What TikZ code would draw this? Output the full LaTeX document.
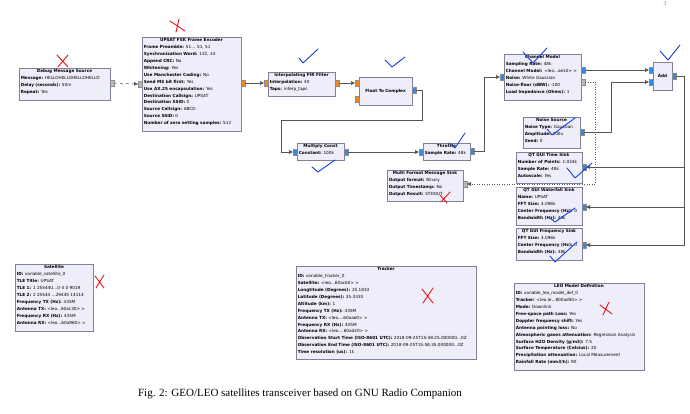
\documentclass[tikz,border=0pt]{standalone}
\usepackage{fontspec}
\usetikzlibrary{arrows.meta}
\newfontfamily\grc{DejaVu Sans}
\newfontfamily\capfont{Liberation Serif}
\definecolor{blkfill}{HTML}{EEEEFB}
\definecolor{blkline}{HTML}{80809A}
\definecolor{pblue}{HTML}{2E8BE6}
\definecolor{porange}{HTML}{F08A1A}
\definecolor{pgrey}{HTML}{B8B8B8}
\definecolor{wirec}{HTML}{555555}
\definecolor{annred}{HTML}{E8151B}
\definecolor{annblue}{HTML}{1A3FE0}
\tikzset{
  blk/.style={draw=blkline, fill=blkfill, line width=0.6pt, inner sep=0pt, outer sep=0pt, rectangle},
  ttl/.style={inner sep=0pt, font=\grc\bfseries\fontsize{4.2}{6.9}\selectfont},
  bdy/.style={inner sep=0pt, align=left, font=\grc\fontsize{4.2}{6.9}\selectfont},
  port/.style={rectangle, minimum width=4pt, minimum height=6pt, inner sep=0pt, outer sep=0pt, draw=black!45, line width=0.3pt},
  wire/.style={draw=wirec, line width=0.5pt, -{Triangle[length=4pt,width=3.6pt]}},
  redx/.style={draw=annred, line width=0.9pt, line cap=round},
  bluecheck/.style={draw=annblue, line width=0.9pt, line cap=round, line join=round},
}
\newcommand\grcblock[7]{%
  \node[blk, minimum width=#4pt, minimum height=#5pt, anchor=north west] (#1) at (#2,#3) {};
  \node[ttl, anchor=north] (#1-t) at ([yshift=-1.6pt]#1.north) {#6};
  \node[bdy, anchor=north west] (#1-b) at ([xshift=1.6pt,yshift=-8.4pt]#1.north west) {#7};
}
\newcommand\grcsimple[6]{%
  \node[blk, minimum width=#4pt, minimum height=#5pt, anchor=north west] (#1) at (#2,#3) {};
  \node[ttl] (#1-t) at (#1.center) {#6};
}
\newcommand\kv[2]{\textbf{#1:} #2}
\begin{document}
\begin{tikzpicture}[x=1pt,y=-1pt]
\useasboundingbox (0,0) rectangle (690,414);
\fill[white] (0,0) rectangle (690,414);

% blocks
\grcblock{dbg}{19}{68}{91}{32}{Debug Message Source}{\kv{Message}{HELLOHELLOHELLOHELLO}\\\kv{Delay (seconds)}{50m}\\\kv{Repeat}{Yes}}
\grcblock{upsat}{142}{37}{99}{94}{UPSAT FSK Frame Encoder}{\kv{Frame Preamble}{51... 51, 51}\\\kv{Synchronization Word}{122, 14}\\\kv{Append CRC}{No}\\\kv{Whitening}{Yes}\\\kv{Use Manchester Coding}{No}\\\kv{Send MS bit first}{Yes}\\\kv{Use AX.25 encapsulation}{Yes}\\\kv{Destination Callsign}{UPSAT}\\\kv{Destination SSID}{0}\\\kv{Source Callsign}{ABCD}\\\kv{Source SSID}{0}\\\kv{Number of zero setting samples}{512}}
\grcblock{fir}{268}{72}{67}{24}{Interpolating FIR Filter}{\kv{Interpolation}{40}\\\kv{Taps}{interp\_taps}}
\grcsimple{f2c}{359}{77}{53}{28}{Float To Complex}
\grcblock{mult}{297}{143}{47}{17}{Multiply Const}{\kv{Constant}{100k}}
\grcblock{thr}{423}{143}{47}{17}{Throttle}{\kv{Sample Rate}{48k}}
\grcblock{chan}{504}{54}{77}{46}{Channel Model}{\kv{Sampling Rate}{48k}\\\kv{Channel Model}{<leo...ae10> >}\\\kv{Noise}{White Gaussian}\\\kv{Noise-floor (dBW)}{-100}\\\kv{Load Impedance (Ohms)}{1}}
\grcsimple{add}{653}{62}{19}{28}{Add}
\grcblock{noise}{523}{117}{57}{31}{Noise Source}{\kv{Noise Type}{Gaussian}\\\kv{Amplitude}{100u}\\\kv{Seed}{0}}
\grcblock{tsink}{516}{152}{66}{31}{QT GUI Time Sink}{\kv{Number of Points}{1.024k}\\\kv{Sample Rate}{48k}\\\kv{Autoscale}{Yes}}
\grcblock{wsink}{516}{187}{66}{38}{QT GUI Waterfall Sink}{\kv{Name}{UPSAT}\\\kv{FFT Size}{4.096k}\\\kv{Center Frequency (Hz)}{0}\\\kv{Bandwidth (Hz)}{48k}}
\grcblock{fsink}{516}{228}{66}{32}{QT GUI Frequency Sink}{\kv{FFT Size}{4.096k}\\\kv{Center Frequency (Hz)}{0}\\\kv{Bandwidth (Hz)}{48k}}
\grcblock{msink}{387}{170}{76}{31}{Multi Format Message Sink}{\kv{Output format}{Binary}\\\kv{Output Timestamp}{No}\\\kv{Output Result}{STDOUT}}
\grcblock{sat}{15}{264}{78}{67}{Satellite}{\kv{ID}{variable\_satellite\_0}\\\kv{TLE Title}{UPSAT}\\\kv{TLE 1}{1 25544U...0-3 0 9019}\\\kv{TLE 2}{2 25544 ...29445 14114}\\\kv{Frequency TX (Hz)}{435M}\\\kv{Antenna TX}{<leo...60ac30> >}\\\kv{Frequency RX (Hz)}{435M}\\\kv{Antenna RX}{<leo...60a960> >}}
\grcblock{trk}{296}{266}{180}{93}{Tracker}{\kv{ID}{variable\_tracker\_0}\\\kv{Satellite}{<leo...60ac60> >}\\\kv{Longtitude (Degrees)}{25.1833}\\\kv{Latitude (Degrees)}{35.3333}\\\kv{Altitude (km)}{1}\\\kv{Frequency TX (Hz)}{435M}\\\kv{Antenna TX}{<leo....60aae0> >}\\\kv{Frequency RX (Hz)}{435M}\\\kv{Antenna RX}{<leo....60ad20> >}\\\kv{Observation Start Time (ISO-8601 UTC)}{2018-09-25T15:48:25.000000...0Z}\\\kv{Observation End Time (ISO-8601 UTC)}{2018-09-25T15:58:35.000000...0Z}\\\kv{Time resolution (us)}{1k}}
\grcblock{leo}{514}{283}{130}{87}{LEO Model Definition}{\kv{ID}{variable\_leo\_model\_def\_0}\\\kv{Tracker}{<leo.le...800ad50> >}\\\kv{Mode}{Downlink}\\\kv{Free-space path Loss}{Yes}\\\kv{Doppler frequency shift}{Yes}\\\kv{Antenna pointing loss}{No}\\\kv{Atmospheric gases attenuation}{Regression Analysis}\\\kv{Surface H2O Density (g/m3)}{7.5}\\\kv{Surface Temperature (Celsius)}{20}\\\kv{Precipitation attenuation}{Local Measurement}\\\kv{Rainfall Rate (mm3/h)}{90}}

% ports
\node[port, fill=pgrey] (dbg-o) at (112,83) {};
\node[port, fill=pgrey] (upsat-i) at (140,84) {};
\node[port, fill=porange] (upsat-o) at (243,83) {};
\node[port, fill=porange] (fir-i) at (266,83) {};
\node[port, fill=porange] (fir-o) at (337,83) {};
\node[port, fill=porange] (f2c-i1) at (357,83) {};
\node[port, fill=porange] (f2c-i2) at (357,99) {};
\node[port, fill=pblue] (f2c-o) at (414,90) {};
\node[port, fill=pblue] (mult-i) at (295,152) {};
\node[port, fill=pblue] (mult-o) at (346,152) {};
\node[port, fill=pblue] (thr-i) at (421,152) {};
\node[port, fill=pblue] (thr-o) at (472,151) {};
\node[port, fill=pblue] (chan-i) at (502,77) {};
\node[port, fill=pblue] (chan-o) at (583,70) {};
\node[port, fill=pgrey] (chan-m) at (583,82) {};
\node[port, fill=pblue] (add-i1) at (651,70) {};
\node[port, fill=pblue] (add-i2) at (651,82) {};
\node[port, fill=pblue] (add-o) at (674,76) {};
\node[port, fill=pblue] (noise-o) at (582,132) {};
\node[port, fill=pblue] (tsink-i) at (584,167) {};
\node[port, fill=pblue] (wsink-i) at (584,207) {};
\node[port, fill=pblue] (fsink-i) at (584,245) {};
\node[port, fill=pgrey] (msink-i) at (465,184) {};

% connectors
\draw[wire, dashed] (dbg-o.east) -- (upsat-i.west);
\draw[wire] (upsat-o.east) -- (fir-i.west);
\draw[wire] (fir-o.east) -- (f2c-i1.west);
\draw[wire] (f2c-o.east) -- ++(6,0) |- (281,120) |- (mult-i.west);
\draw[wire] (mult-o.east) -- (thr-i.west);
\draw[wire] (thr-o.east) -- ++(10,0) |- (chan-i.west);
\draw[wire] (chan-o.east) -- (add-i1.west);
\draw[wire] (noise-o.east) -- ++(27,0) |- (add-i2.west);
\draw[wire] (add-o.east) -- ++(8,0) |- (tsink-i.east);
\draw[wire] (add-o.east) -- ++(8,0) |- (wsink-i.east);
\draw[wire] (add-o.east) -- ++(8,0) |- (fsink-i.east);
\draw[wire, dotted] (chan-m.east) -- ++(10,0) |- (msink-i.east);

% caption
\node[font=\capfont\fontsize{11}{13}\selectfont, inner sep=0pt] (cap) at (300,394) {Fig. 2: GEO/LEO satellites transceiver based on GNU Radio Companion};
\node[font=\capfont\fontsize{6}{7}\selectfont, text=annblue!70, inner sep=0pt] (pg) at (665,4) {3};

% hand annotations: red crosses
\draw[redx] (57,55) -- (68,67) (58,67) -- (68,55);
\draw[redx] (170,21) -- (185,31) (176,32) -- (179,19);
\draw[redx] (95,276) -- (104,288) (96,288) -- (104,275);
\draw[redx] (422,289) -- (433,303) (423,303) -- (433,288);
\draw[redx] (600,305) -- (612,314) (603,315) -- (609,302);
\draw[redx] (440,195) -- (447,203) (441,202) -- (450,192);

% hand annotations: blue ticks
\draw[bluecheck] (299,58) -- (303,63) -- (318,49);
\draw[bluecheck] (385,60) -- (392,67) -- (405,57);
\draw[bluecheck] (523,52) -- (533,63) -- (547,48);
\draw[bluecheck] (660,51) -- (668,60) -- (680,45);
\draw[bluecheck] (312,167) -- (318,172) -- (335,160);
\draw[bluecheck] (449,143) -- (455,148) -- (465,133);
\draw[bluecheck] (547,129) -- (552,135) -- (575,118);
\draw[bluecheck] (567,168) -- (575,178) -- (592,163);
\draw[bluecheck] (551,219) -- (555,222) -- (575,208);
\draw[bluecheck] (550,256) -- (555,262) -- (577,242);
\end{tikzpicture}
\end{document}
